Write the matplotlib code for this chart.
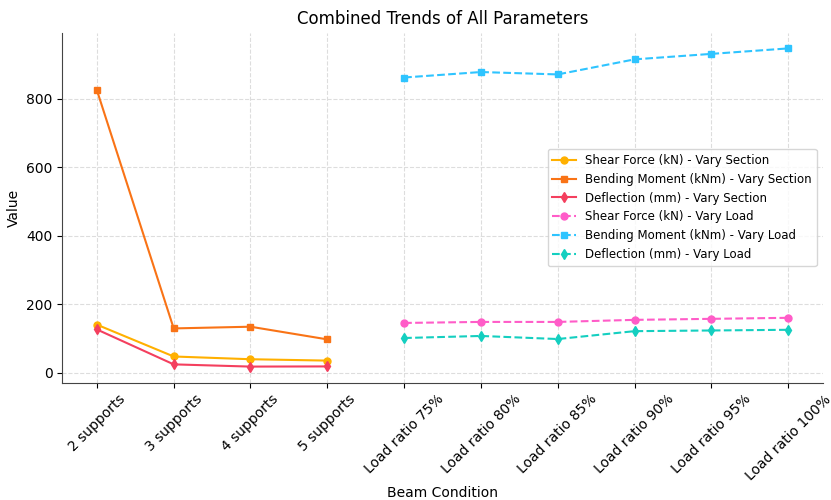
import numpy as np
import matplotlib.pyplot as plt

# categories on the x axis
section_labels = ["2 supports", "3 supports", "4 supports", "5 supports"]
load_labels = ["Load ratio 75%", "Load ratio 80%", "Load ratio 85%",
               "Load ratio 90%", "Load ratio 95%", "Load ratio 100%"]

# vary section
shear_section = [140, 47, 39, 35]
moment_section = [825, 129, 134, 97]
defl_section = [126, 24, 17.5, 18]

# vary load
shear_load = [145, 148, 148, 154, 157, 160]
moment_load = [862, 878, 871, 915, 931, 947]
defl_load = [101, 107, 98, 121, 123, 125]

labels = section_labels + load_labels
xs = np.arange(len(section_labels))
xl = np.arange(len(section_labels), len(labels))

fig, ax = plt.subplots(figsize=(8.31, 5), dpi=100)

ms = 5
ax.plot(xs, shear_section, marker='o', ms=ms, color='#FFB000', label='Shear Force (kN) - Vary Section')
ax.plot(xs, moment_section, marker='s', ms=ms, color='#F97316', label='Bending Moment (kNm) - Vary Section')
ax.plot(xs, defl_section, marker='d', ms=ms, color='#F43F5E', label='Deflection (mm) - Vary Section')
ax.plot(xl, shear_load, marker='o', ms=ms, ls='--', color='#FF5CC8', label='Shear Force (kN) - Vary Load')
ax.plot(xl, moment_load, marker='s', ms=ms, ls='--', color='#2EC4FF', label='Bending Moment (kNm) - Vary Load')
ax.plot(xl, defl_load, marker='d', ms=ms, ls='--', color='#14CFC0', label='Deflection (mm) - Vary Load')

ax.set_xticks(np.arange(len(labels)))
ax.set_xticklabels(labels, rotation=45, fontsize=10)
ax.tick_params(axis='y', labelsize=10)
ax.set_yticks([0, 200, 400, 600, 800])
ax.set_xlabel("Beam Condition", fontsize=10, labelpad=2)
ax.set_ylabel("Value", fontsize=10)
ax.set_title("Combined Trends of All Parameters", fontsize=12)
ax.grid(True, ls='--', color='#dddddd', lw=0.8)
ax.spines['top'].set_visible(False)
ax.spines['right'].set_visible(False)
ax.spines['left'].set_color('#444444')
ax.spines['bottom'].set_color('#444444')
ax.legend(loc='center right', fontsize=8.5, bbox_to_anchor=(1.0, 0.5))

plt.subplots_adjust(left=0.075, right=0.99, top=0.935, bottom=0.235)
plt.savefig("out.png")
